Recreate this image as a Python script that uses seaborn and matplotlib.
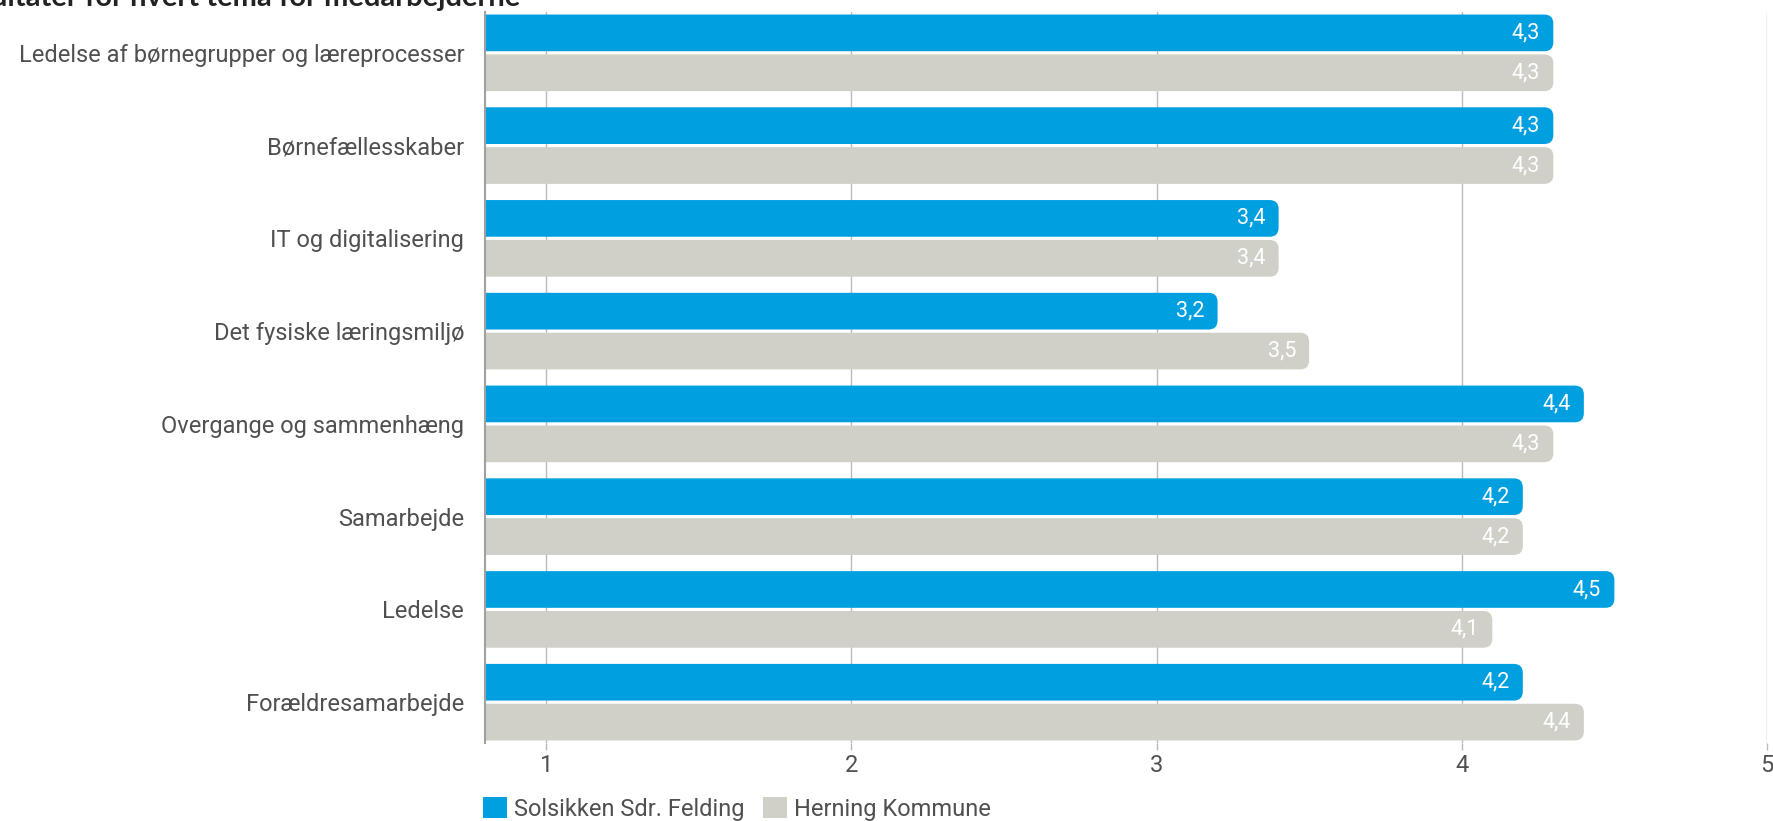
import pandas as pd
import seaborn as sns
import matplotlib.pyplot as plt
from matplotlib.patches import FancyBboxPatch, Patch

# Data
categories = [
    "Ledelse af børnegrupper og læreprocesser",
    "Børnefællesskaber",
    "IT og digitalisering",
    "Det fysiske læringsmiljø",
    "Overgange og sammenhæng",
    "Samarbejde",
    "Ledelse",
    "Forældresamarbejde",
]
solsikken = [4.3, 4.3, 3.4, 3.2, 4.4, 4.2, 4.5, 4.2]
herning = [4.3, 4.3, 3.4, 3.5, 4.3, 4.2, 4.1, 4.4]
series_names = ["Solsikken Sdr. Felding", "Herning Kommune"]
x_ticks = [1, 2, 3, 4, 5]
title = "Resultater for hvert tema for medarbejderne"

colors = ["#009FE0", "#D0D0C8"]
text_color = "#505050"

df = pd.DataFrame({
    "tema": categories * 2,
    "serie": [series_names[0]] * len(categories) + [series_names[1]] * len(categories),
    "score": solsikken + herning,
})

sns.set_theme(style="white")
plt.rcParams["font.family"] = ["Roboto", "DejaVu Sans"]

W, H = 1774, 821
fig = plt.figure(figsize=(W / 100, H / 100), dpi=100)
ax = fig.add_axes([485 / W, 1 - 743 / H, (1767 - 485) / W, 731 / H])

sns.barplot(data=df, y="tema", x="score", hue="serie", palette=colors,
            orient="h", width=0.86, gap=0.08, legend=False, ax=ax,
            saturation=1, errorbar=None)

ax.set_xlim(0.8, 5)
ax.set_ylim(len(categories) - 1 + 0.44, -0.44)
ax.set_xticks(x_ticks)
ax.set_xticklabels([str(t) for t in x_ticks])
ax.set_xlabel("")
ax.set_ylabel("")
ax.grid(axis="x", color="#BBBBBB", linewidth=1)
ax.grid(axis="y", visible=False)
ax.set_axisbelow(True)
for side in ["top", "right", "bottom"]:
    ax.spines[side].set_visible(False)
ax.spines["left"].set_color("#A0A0A0")
ax.spines["left"].set_linewidth(1.5)
ax.tick_params(axis="y", length=0, labelsize=17, labelcolor=text_color, pad=15)
ax.tick_params(axis="x", length=5, color="#BBBBBB", width=1, labelsize=17,
               labelcolor=text_color, pad=3, bottom=True)

# swap the plain bars for bars with rounded ends
fig.canvas.draw()
inv = ax.transData.inverted()
p0 = inv.transform((0, 0))
p1 = inv.transform((1, 1))
x_per_px = abs(p1[0] - p0[0])
y_per_px = abs(p1[1] - p0[1])
radius_px = 9
bars = list(ax.patches)
for bar in bars:
    x, y = bar.get_x(), bar.get_y()
    w, h = bar.get_width(), bar.get_height()
    y0 = min(y, y + h)
    rounded = FancyBboxPatch(
        (x, y0), w, abs(h),
        boxstyle=f"round,pad=0,rounding_size={radius_px * x_per_px}",
        mutation_aspect=y_per_px / x_per_px,
        facecolor=bar.get_facecolor(), edgecolor="none", zorder=2,
    )
    bar.remove()
    ax.add_patch(rounded)
    val = x + w
    ax.annotate(f"{val:.1f}".replace(".", ","), xy=(val, y0 + abs(h) / 2),
                xytext=(-9.5, 0), textcoords="offset points",
                ha="right", va="center", color="white", fontsize=15.5, zorder=3)

# title, clipped at the top edge like the reference
fig.text(520 / W, 1 - 6 / H, title, ha="right", va="baseline",
         fontsize=21, fontweight="bold", color="#222222",
         family=["Lato", "DejaVu Sans"])

handles = [Patch(facecolor=c, edgecolor="none") for c in colors]
fig.legend(handles, series_names, loc="center left",
           bbox_to_anchor=(483 / W, 1 - 809 / H), ncol=2, frameon=False,
           fontsize=17, labelcolor=text_color, handlelength=1.0, handleheight=1.0,
           handletextpad=0.3, columnspacing=0.8, borderpad=0, borderaxespad=0)

fig.savefig("out.png", dpi=100)
plt.close(fig)
